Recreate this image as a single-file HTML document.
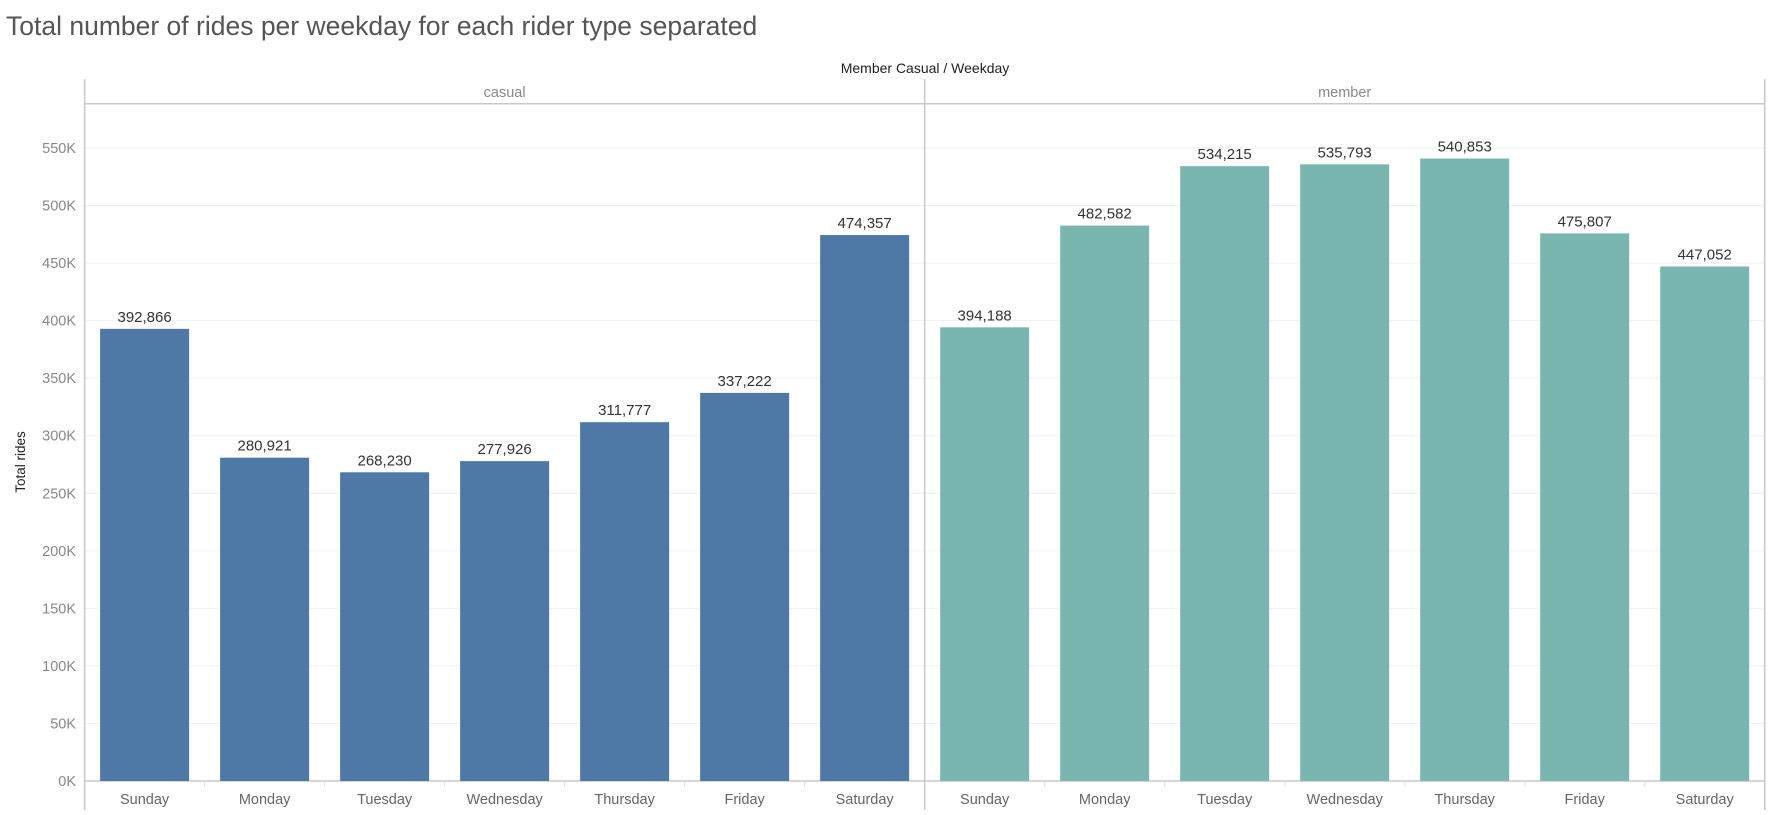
<!DOCTYPE html>
<html><head><meta charset="utf-8"><style>
body{margin:0;background:#fff;}
svg text{font-family:"Liberation Sans",sans-serif;}
</style></head><body>
<svg width="1768" height="810" viewBox="0 0 1768 810" xmlns="http://www.w3.org/2000/svg">
<text x="6" y="35" font-size="26.5" fill="#555">Total number of rides per weekday for each rider type separated</text>
<text x="925" y="73" font-size="14" fill="#222" text-anchor="middle">Member Casual  /  Weekday</text>
<g id="chart"></g>
</svg>
<script>
const panels = ["casual","member"];
const days = ["Sunday","Monday","Tuesday","Wednesday","Thursday","Friday","Saturday"];
const casualValues = [392866,280921,268230,277926,311777,337222,474357];
const memberValues = [394188,482582,534215,535793,540853,475807,447052];
const yTicks = [0,50000,100000,150000,200000,250000,300000,350000,400000,450000,500000,550000];
const yTickLabels = ["0K","50K","100K","150K","200K","250K","300K","350K","400K","450K","500K","550K"];
const series = [casualValues, memberValues];
const colors = ["#4e79a7","#79b6b0"];
const NS="http://www.w3.org/2000/svg";
const g=document.getElementById('chart');
const L=84.6, R=1764.7, base=781, top550=148;
const panelW=(R-L)/2, step=panelW/7, barW=89;
const y=v=>base-(v/550000)*(base-top550);
function el(t,a,txt){const e=document.createElementNS(NS,t);for(const k in a)e.setAttribute(k,a[k]);if(txt!==undefined)e.textContent=txt;g.appendChild(e);return e;}
yTicks.forEach((v,i)=>{
  const l=el('line',{x1:L,x2:R,y1:y(v),y2:y(v),stroke:i==0?'#ddd':'#f0f0f0','stroke-width':1});
  
  
  const t=el('text',{x:76,y:y(v)+5,'font-size':14.5,fill:'#888','text-anchor':'end'},yTickLabels[i]);
  
  
});
const yt=el('text',{x:25,y:462,'font-size':13.5,fill:'#222','text-anchor':'middle',transform:'rotate(-90 25 462)'},'Total rides');


[[L,79,L,810],[L+panelW,79,L+panelW,810],[R,79,R,810],[L,103.7,R,103.7],[L,base,R,base]].forEach(c=>{
  const l=el('line',{x1:c[0],y1:c[1],x2:c[2],y2:c[3],stroke:'#c8c8c8','stroke-width':1.5});
  
  
});
panels.forEach((p,pi)=>{
  const px=L+pi*panelW;
  const h=el('text',{x:px+panelW/2,y:97,'font-size':14.5,fill:'#888','text-anchor':'middle'},p);
  
  
  series[pi].forEach((v,i)=>{
    const cx=px+step*i+step/2;
    const r=el('rect',{x:cx-barW/2,y:y(v),width:barW,height:base-y(v),fill:colors[pi]});
    
    
    const t=el('text',{x:cx,y:y(v)-7,'font-size':15,fill:'#333','text-anchor':'middle'},v.toLocaleString('en-US'));
    
    
    const d=el('text',{x:cx,y:804,'font-size':14.5,fill:'#666','text-anchor':'middle'},days[i]);
    
    
    if(i>0){const tk=el('line',{x1:px+step*i,x2:px+step*i,y1:base,y2:base+6,stroke:'#e0e0e0'});
    
    }
  });
});
</script>
</body></html>
